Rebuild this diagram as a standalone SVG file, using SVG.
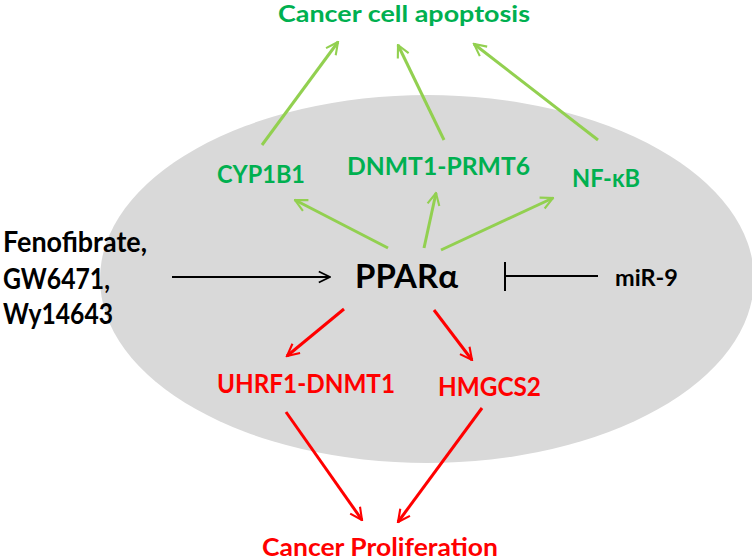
<svg xmlns="http://www.w3.org/2000/svg" width="752" height="560" viewBox="0 0 752 560">
<style>
text{font-family:Lato,"Open Sans","Liberation Sans",sans-serif;font-weight:bold}
.g{fill:#00B050}
.r{fill:#FF0000}
.k{fill:#000}
.lg{stroke:#92D050;stroke-width:3;fill:none}
.lr{stroke:#FF0000;stroke-width:3;fill:none}
.lk{stroke:#000;stroke-width:2;fill:none}
</style>
<defs>
<marker id="ag" viewBox="0 0 10 10" refX="9" refY="5" markerWidth="5" markerHeight="5" orient="auto" markerUnits="strokeWidth"><polyline points="1,1 9,5 1,9" fill="none" stroke="#92D050" stroke-width="1.4"/></marker>
<marker id="ar" viewBox="0 0 10 10" refX="9" refY="5" markerWidth="5" markerHeight="5" orient="auto" markerUnits="strokeWidth"><polyline points="1,1 9,5 1,9" fill="none" stroke="#FF0000" stroke-width="1.4"/></marker>
<marker id="ak" viewBox="0 0 10 10" refX="9" refY="5" markerWidth="7" markerHeight="7" orient="auto" markerUnits="strokeWidth"><polyline points="1,1 9,5 1,9" fill="none" stroke="#000" stroke-width="1.2"/></marker>
</defs>
<ellipse id="cell" cx="427" cy="279" rx="327" ry="184" fill="#D9D9D9"/>
<g id="connectors">
<line class="lg" x1="262" y1="145" x2="338" y2="42" marker-end="url(#ag)"/>
<line class="lg" x1="444" y1="140" x2="398" y2="45" marker-end="url(#ag)"/>
<line class="lg" x1="598" y1="140" x2="474" y2="44" marker-end="url(#ag)"/>
<line class="lg" x1="388" y1="248" x2="295" y2="200" marker-end="url(#ag)"/>
<line class="lg" x1="424" y1="248" x2="436" y2="193" marker-end="url(#ag)"/>
<line class="lg" x1="441" y1="250" x2="553" y2="198" marker-end="url(#ag)"/>
<line class="lk" x1="172" y1="277" x2="330" y2="277" marker-end="url(#ak)"/>
<line class="lk" x1="598" y1="276" x2="505" y2="276"/>
<line class="lk" x1="505" y1="262" x2="505" y2="291"/>
<line class="lr" x1="344" y1="309" x2="287" y2="356" marker-end="url(#ar)"/>
<line class="lr" x1="434" y1="310" x2="472" y2="360" marker-end="url(#ar)"/>
<line class="lr" x1="286" y1="412" x2="362" y2="520" marker-end="url(#ar)"/>
<line class="lr" x1="482" y1="408" x2="398" y2="522" marker-end="url(#ar)"/>
</g>
<g id="apoptosis"><text class="g" x="278" y="22" font-size="22" textLength="252" lengthAdjust="spacingAndGlyphs">Cancer cell apoptosis</text></g>
<g id="cyp1b1"><text class="g" x="217" y="183" font-size="25" textLength="88" lengthAdjust="spacingAndGlyphs">CYP1B1</text></g>
<g id="dnmt1-prmt6"><text class="g" x="347" y="175" font-size="25" textLength="183" lengthAdjust="spacingAndGlyphs">DNMT1-PRMT6</text></g>
<g id="nfkb"><text class="g" x="572" y="187" font-size="25" textLength="68" lengthAdjust="spacingAndGlyphs">NF-κB</text></g>
<g id="ppara"><text class="k" x="355" y="288" font-size="32" textLength="103" lengthAdjust="spacingAndGlyphs">PPARα</text></g>
<g id="agonists"><text class="k" x="3" y="252" font-size="28" textLength="144" lengthAdjust="spacingAndGlyphs">Fenofibrate,</text><text class="k" x="3" y="289" font-size="28" textLength="107" lengthAdjust="spacingAndGlyphs">GW6471,</text><text class="k" x="3" y="324" font-size="28" textLength="110" lengthAdjust="spacingAndGlyphs">Wy14643</text></g>
<g id="mir9"><text class="k" x="615" y="286" font-size="23" textLength="63" lengthAdjust="spacingAndGlyphs">miR-9</text></g>
<g id="uhrf1-dnmt1"><text class="r" x="217" y="393" font-size="26" textLength="178" lengthAdjust="spacingAndGlyphs">UHRF1-DNMT1</text></g>
<g id="hmgcs2"><text class="r" x="438" y="396" font-size="26" textLength="103" lengthAdjust="spacingAndGlyphs">HMGCS2</text></g>
<g id="proliferation"><text class="r" x="262" y="556" font-size="24" textLength="236" lengthAdjust="spacingAndGlyphs">Cancer Proliferation</text></g>
</svg>
